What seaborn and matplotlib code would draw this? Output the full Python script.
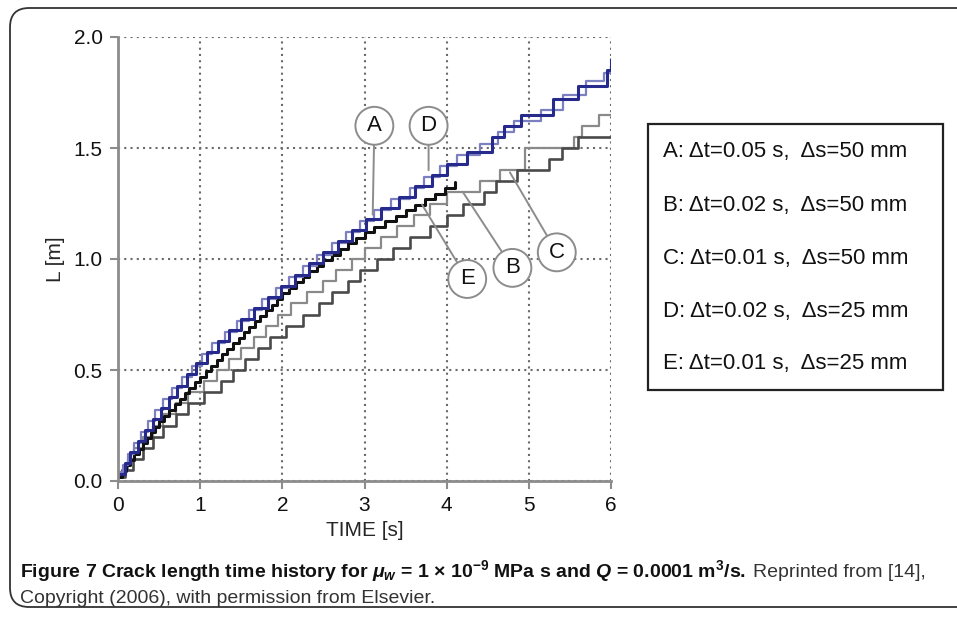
import matplotlib
matplotlib.use('Agg')
import matplotlib.pyplot as plt
from matplotlib.patches import FancyBboxPatch, Rectangle
import pandas as pd
import seaborn as sns

# A: dt=0.05 s, ds=50 mm  (dark blue)
a_t = [0.00, 0.08, 0.15, 0.24, 0.33, 0.42, 0.52, 0.62, 0.72, 0.84, 0.95, 1.08, 1.22, 1.35,
       1.50, 1.65, 1.82, 1.98, 2.15, 2.32, 2.50, 2.68, 2.85, 3.02, 3.20, 3.42, 3.62, 3.82,
       4.00, 4.25, 4.55, 4.70, 4.90, 5.30, 5.60, 5.95, 6.00]
a_L = [0.03, 0.08, 0.13, 0.18, 0.23, 0.28, 0.33, 0.38, 0.43, 0.48, 0.53, 0.58, 0.63, 0.68,
       0.73, 0.78, 0.83, 0.88, 0.93, 0.98, 1.03, 1.08, 1.13, 1.18, 1.23, 1.28, 1.33, 1.38,
       1.43, 1.48, 1.55, 1.60, 1.65, 1.72, 1.78, 1.85, 1.90]

# B: dt=0.02 s, ds=50 mm  (light grey)
b_t = [0.00, 0.05, 0.12, 0.20, 0.30, 0.42, 0.55, 0.70, 0.85, 1.05, 1.20, 1.35, 1.50, 1.65,
       1.80, 1.95, 2.10, 2.30, 2.50, 2.65, 2.85, 3.00, 3.20, 3.40, 3.60, 3.80, 4.00, 4.40,
       4.65, 4.95, 5.55, 5.65, 5.85, 6.00]
b_L = [0.03, 0.05, 0.10, 0.15, 0.20, 0.25, 0.30, 0.35, 0.40, 0.45, 0.50, 0.55, 0.60, 0.65,
       0.70, 0.75, 0.80, 0.85, 0.90, 0.95, 1.00, 1.05, 1.10, 1.15, 1.20, 1.25, 1.30, 1.35,
       1.40, 1.50, 1.55, 1.60, 1.65, 1.65]

# C: dt=0.01 s, ds=50 mm  (dark grey)
c_t = [0.00, 0.08, 0.18, 0.30, 0.42, 0.55, 0.70, 0.85, 1.05, 1.25, 1.40, 1.55, 1.70, 1.85,
       2.05, 2.25, 2.45, 2.60, 2.80, 2.95, 3.15, 3.35, 3.55, 3.80, 4.00, 4.20, 4.45, 4.60,
       4.85, 5.25, 5.40, 5.60, 6.00]
c_L = [0.02, 0.05, 0.10, 0.15, 0.20, 0.25, 0.30, 0.35, 0.40, 0.45, 0.50, 0.55, 0.60, 0.65,
       0.70, 0.75, 0.80, 0.85, 0.90, 0.95, 1.00, 1.05, 1.10, 1.15, 1.20, 1.25, 1.30, 1.35,
       1.40, 1.45, 1.50, 1.55, 1.55]

# D: dt=0.02 s, ds=25 mm  (light blue)
d_t = [0.00, 0.06, 0.12, 0.20, 0.28, 0.36, 0.45, 0.55, 0.66, 0.78, 0.90, 1.02, 1.15, 1.30,
       1.45, 1.60, 1.75, 1.92, 2.08, 2.25, 2.42, 2.60, 2.78, 2.95, 3.12, 3.32, 3.55, 3.72,
       3.92, 4.12, 4.40, 4.62, 4.82, 5.15, 5.42, 5.70, 5.92, 6.00]
d_L = [0.04, 0.07, 0.12, 0.17, 0.22, 0.27, 0.32, 0.37, 0.42, 0.47, 0.52, 0.57, 0.62, 0.67,
       0.72, 0.77, 0.82, 0.87, 0.92, 0.97, 1.02, 1.07, 1.12, 1.17, 1.22, 1.27, 1.32, 1.37,
       1.42, 1.47, 1.52, 1.57, 1.62, 1.67, 1.74, 1.80, 1.84, 1.87]

# E: dt=0.01 s, ds=25 mm  (black)
e_t = [0.00, 0.05, 0.10, 0.15, 0.20, 0.25, 0.30, 0.35, 0.40, 0.45, 0.50, 0.56, 0.62, 0.69,
       0.75, 0.81, 0.87, 0.94, 1.00, 1.07, 1.13, 1.20, 1.27, 1.33, 1.40, 1.47, 1.53, 1.60,
       1.67, 1.73, 1.80, 1.87, 1.93, 2.00, 2.08, 2.17, 2.25, 2.33, 2.42, 2.50, 2.60, 2.70,
       2.80, 2.90, 3.00, 3.12, 3.25, 3.38, 3.50, 3.62, 3.74, 3.86, 3.98, 4.10]
e_L = [0.020, 0.045, 0.070, 0.095, 0.120, 0.145, 0.170, 0.195, 0.220, 0.245, 0.270, 0.295,
       0.320, 0.345, 0.370, 0.395, 0.420, 0.445, 0.470, 0.495, 0.520, 0.545, 0.570, 0.595,
       0.620, 0.645, 0.670, 0.695, 0.720, 0.745, 0.770, 0.795, 0.820, 0.845, 0.870, 0.895,
       0.920, 0.945, 0.970, 0.995, 1.020, 1.045, 1.070, 1.095, 1.120, 1.145, 1.170, 1.195,
       1.220, 1.245, 1.270, 1.295, 1.320, 1.345]

legend_lines = ['A: \u0394t=0.05 s,  \u0394s=50 mm',
                'B: \u0394t=0.02 s,  \u0394s=50 mm',
                'C: \u0394t=0.01 s,  \u0394s=50 mm',
                'D: \u0394t=0.02 s,  \u0394s=25 mm',
                'E: \u0394t=0.01 s,  \u0394s=25 mm']

# circled labels: name, point on curve, circle centre
tags = [('A', (3.10, 1.20), (3.12, 1.60)),
        ('D', (3.78, 1.40), (3.78, 1.60)),
        ('E', (3.70, 1.245), (4.25, 0.91)),
        ('B', (4.20, 1.30), (4.80, 0.96)),
        ('C', (4.77, 1.39), (5.34, 1.03))]

xticks = [0, 1, 2, 3, 4, 5, 6]
yticks = [0.0, 0.5, 1.0, 1.5, 2.0]

sns.set_theme(style='white')
plt.rcParams['font.family'] = ['Liberation Sans', 'DejaVu Sans']
plt.rcParams['mathtext.fontset'] = 'custom'
plt.rcParams['mathtext.rm'] = 'Liberation Sans:bold'
plt.rcParams['mathtext.it'] = 'Liberation Sans:italic:bold'
plt.rcParams['mathtext.bf'] = 'Liberation Sans:bold'

W, H = 957, 617
fig = plt.figure(figsize=(W / 100, H / 100), dpi=100)
fig.patch.set_facecolor('white')

# outer rounded frame
frame = FancyBboxPatch((10 / W, 10 / H), 1.2, 1 - 18 / H,
                       boxstyle='round,pad=0,rounding_size=0.02',
                       transform=fig.transFigure, fc='none', ec='#333333', lw=1.3,
                       mutation_aspect=W / H)
fig.add_artist(frame)

ax = fig.add_axes([118 / W, 136 / H, 493 / W, 444 / H])

series = [(b_t, b_L, '#8a8a8a', 1.6),
          (c_t, c_L, '#4a4a4a', 1.9),
          (e_t, e_L, '#111111', 2.2),
          (d_t, d_L, '#7d80c0', 1.6),
          (a_t, a_L, '#262a8c', 2.2)]
for t, L, col, lw in series:
    df = pd.DataFrame({'t': t, 'L': L})
    sns.lineplot(data=df, x='t', y='L', ax=ax, color=col, lw=lw,
                 drawstyle='steps-post', estimator=None, sort=False)

ax.set_xlim(0, 6)
ax.set_ylim(0, 2)
ax.set_xticks(xticks)
ax.set_xticklabels([str(v) for v in xticks])
ax.set_yticks(yticks)
ax.set_yticklabels(['%.1f' % v for v in yticks])
ax.grid(True, ls=(0, (1, 2)), color='#6a6a6a', lw=1.5)
for s in ['top', 'right']:
    ax.spines[s].set_visible(False)
for s in ['left', 'bottom']:
    ax.spines[s].set_color('#8c8c8c')
    ax.spines[s].set_linewidth(2)
ax.tick_params(bottom=True, left=True, direction='out', length=6, width=1.5,
               color='#8c8c8c', labelsize=15, pad=5, labelcolor='#111111')
ax.set_xlabel('TIME [s]', fontsize=15, labelpad=4)
ax.set_ylabel('L [m]', fontsize=15, labelpad=6)

for name, xy, xyt in tags:
    ax.annotate(name, xy=xy, xytext=xyt, ha='center', va='center', fontsize=16,
                color='#111111',
                bbox=dict(boxstyle='circle,pad=0.38', fc='white', ec='#8c8c8c', lw=1.4),
                arrowprops=dict(arrowstyle='-', color='#8c8c8c', lw=1.4,
                                shrinkA=0, shrinkB=0))

# legend box
fig.add_artist(Rectangle((648 / W, 1 - 390 / H), 295 / W, 266 / H,
                         transform=fig.transFigure, fc='white', ec='#222222', lw=1.6))
for i, txt in enumerate(legend_lines):
    fig.text(663 / W, 1 - (152 + 53 * i) / H, txt, fontsize=16, va='center',
             color='#111111')

# caption
cap1 = [('Figure 7 Crack length time history for $\\mu_w$ = 1 \u00d7 10$^{-9}$ MPa s and '
         '$Q$ = 0.0001 m$^3$/s.', 'bold', '#111111'),
        ('Reprinted from [14],', 'normal', '#333333')]
renderer = fig.canvas.get_renderer()
x = 20 / W
for txt, wt, col in cap1:
    tt = fig.text(x, 1 - 577 / H, txt, fontsize=14, fontweight=wt,
                  va='baseline', color=col)
    bb = tt.get_window_extent(renderer)
    x += bb.width / W + 7 / W
fig.text(20 / W, 1 - 603 / H, 'Copyright (2006), with permission from Elsevier.',
         fontsize=14, va='baseline', color='#333333')

fig.savefig('out.png', dpi=100, facecolor='white')
